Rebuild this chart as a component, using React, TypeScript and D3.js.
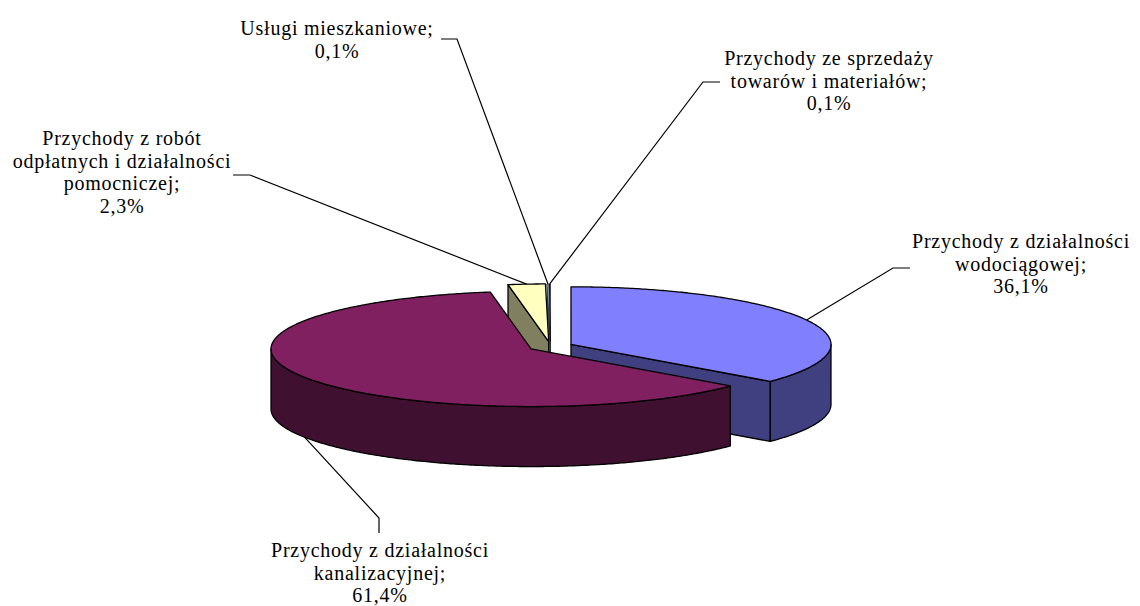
import React, { useEffect, useRef } from "react";
import * as d3 from "d3";

// revenue structure, percent of total
const categories: string[] = [
  "Przychody z działalności wodociągowej",
  "Przychody z działalności kanalizacyjnej",
  "Przychody z robót odpłatnych i działalności pomocniczej",
  "Usługi mieszkaniowe",
  "Przychody ze sprzedaży towarów i materiałów",
];
const values: number[] = [36.1, 61.4, 2.3, 0.1, 0.1];
const labelLines: string[][] = [
  ["Przychody z działalności", "wodociągowej;"],
  ["Przychody z działalności", "kanalizacyjnej;"],
  ["Przychody z robót", "odpłatnych i działalności", "pomocniczej;"],
  ["Usługi mieszkaniowe;"],
  ["Przychody ze sprzedaży", "towarów i materiałów;"],
];
const topColors: string[] = ["#8080ff", "#802060", "#ffffc0", "#a0e0e0", "#600060"];

// where the labels sit (text centre x, first baseline) and the leader elbows
const labelLayout = [
  { x: 1021, y: 248, elbow: [893, 268], end: [910, 268] },
  { x: 380, y: 557, elbow: [379, 518], end: [379, 533] },
  { x: 122, y: 145, elbow: [250, 175], end: [233, 175] },
  { x: 337, y: 35, elbow: [457, 39], end: [441, 39] },
  { x: 829, y: 65, elbow: [703, 82], end: [720, 82] },
];

const FONT = '"Liberation Serif", "Times New Roman", Times, serif';

interface Slice {
  i: number;
  a0: number;
  a1: number;
  c: [number, number];
}

const PieChart3D: React.FC = () => {
  const ref = useRef<SVGSVGElement>(null);
  const width = 1140;
  const height = 606;

  useEffect(() => {
    if (!ref.current) return;
    const svg = d3.select(ref.current);
    svg.selectAll("*").remove();

    const cx = 550.6;
    const cy = 346.5;
    const rx = 260;
    const ry = 57.6;
    const depth = 60;
    const explode = 22.5;

    const pt = (c: [number, number], a: number, z = 0): [number, number] => [
      c[0] + rx * Math.sin(a),
      c[1] - ry * Math.cos(a) + z,
    ];
    const arcPts = (c: [number, number], a0: number, a1: number, z = 0) => {
      const n = Math.max(2, Math.ceil(Math.abs(a1 - a0) / 0.01));
      return d3.range(n + 1).map((k) => pt(c, a0 + ((a1 - a0) * k) / n, z));
    };
    const line = d3.line();
    const poly = (p: [number, number][]) => line(p) + "Z";

    const arcs = d3
      .pie<number>()
      .sort(null)
      .value((d) => d)(values);

    const slices: Slice[] = arcs.map((a, i) => {
      const mid = (a.startAngle + a.endAngle) / 2;
      return {
        i,
        a0: a.startAngle,
        a1: a.endAngle,
        c: [cx + explode * Math.sin(mid), cy - (explode * ry / rx) * Math.cos(mid)],
      };
    });

    // back slices first
    const order = [...slices].sort(
      (s, t) => -Math.cos((s.a0 + s.a1) / 2) + Math.cos((t.a0 + t.a1) / 2)
    );

    const g = svg
      .append("g")
      .attr("stroke", "#000")
      .attr("stroke-linejoin", "round");

    order.forEach((s) => {
      const top = topColors[s.i];
      const c = d3.rgb(top);
      const side = d3.rgb(c.r * 0.5, c.g * 0.5, c.b * 0.5).formatHex();
      const cb: [number, number] = [s.c[0], s.c[1] + depth];
      const sw = values[s.i] < 1 ? 0.5 : 1.3;

      // radial faces
      if (Math.sin(s.a0) < -1e-6) {
        g.append("path")
          .attr("d", poly([s.c, pt(s.c, s.a0), pt(s.c, s.a0, depth), cb]))
          .attr("fill", side)
          .attr("stroke-width", sw);
      }
      if (Math.sin(s.a1) > 1e-6) {
        g.append("path")
          .attr("d", poly([s.c, pt(s.c, s.a1), pt(s.c, s.a1, depth), cb]))
          .attr("fill", side)
          .attr("stroke-width", sw);
      }
      // outer wall, front half only
      const lo = Math.max(s.a0, Math.PI / 2);
      const hi = Math.min(s.a1, (3 * Math.PI) / 2);
      if (lo < hi) {
        const pts = [...arcPts(s.c, lo, hi), ...arcPts(s.c, hi, lo, depth)];
        g.append("path").attr("d", poly(pts)).attr("fill", side).attr("stroke-width", sw);
      }
      // top face
      g.append("path")
        .attr("d", poly([s.c, ...arcPts(s.c, s.a0, s.a1)]))
        .attr("fill", top)
        .attr("stroke-width", sw);
    });

    // leaders
    const fmt = (v: number) => d3.format(".1f")(v).replace(".", ",") + "%";
    slices.forEach((s) => {
      const mid = (s.a0 + s.a1) / 2;
      const anchor = Math.cos(mid) < 0 ? pt(s.c, mid, depth) : pt(s.c, mid);
      const L = labelLayout[s.i];
      svg
        .append("path")
        .attr("d", line([anchor, L.elbow as [number, number], L.end as [number, number]]))
        .attr("fill", "none")
        .attr("stroke", "#000")
        .attr("stroke-width", 1.2);
    });

    // labels
    slices.forEach((s) => {
      const L = labelLayout[s.i];
      const rows = [...labelLines[s.i], fmt(values[s.i])];
      const t = svg
        .append("text")
        .attr("text-anchor", "middle")
        .style("font-family", FONT)
        .style("font-size", "20px")
        .style("letter-spacing", "0.75px")
        .attr("fill", "#000");
      t.append("title").text(categories[s.i]);
      rows.forEach((r, k) => {
        t.append("tspan").attr("x", L.x).attr("y", L.y + k * 22.6).text(r);
      });
    });
  }, []);

  return (
    <svg
      ref={ref}
      width={width}
      height={height}
      style={{ position: "absolute", left: 0, top: 0, background: "#fff", fontFamily: FONT }}
    />
  );
};

export default function App() {
  return <PieChart3D />;
}
